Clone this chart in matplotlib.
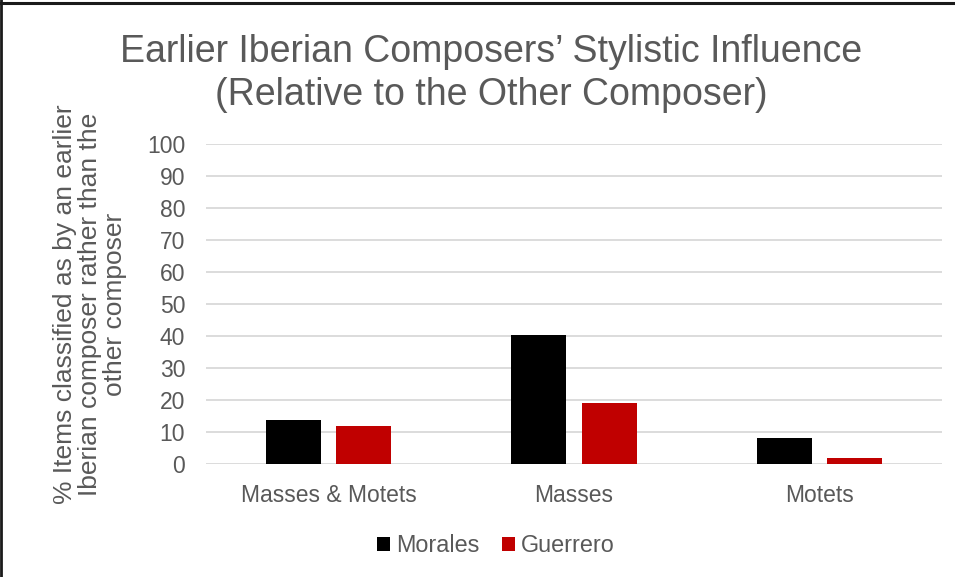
import matplotlib
matplotlib.use("Agg")
import matplotlib.pyplot as plt
from matplotlib.lines import Line2D
import numpy as np

plt.rcParams['font.family'] = ['Liberation Sans', 'DejaVu Sans']

categories = ["Masses & Motets", "Masses", "Motets"]
series_names = ["Morales", "Guerrero"]
morales = [13.8, 40.2, 8.0]
guerrero = [11.9, 19.1, 1.8]
colors = ["#000000", "#c00000"]
yticks = list(range(0, 101, 10))
title_lines = ["Earlier Iberian Composers\u2019 Stylistic Influence",
               "(Relative to the Other Composer)"]
ylabel = ("% Items classified as by an earlier\n"
          "Iberian composer rather than the\n"
          "other composer")

text_grey = "#595959"
W, H = 955, 577

fig = plt.figure(figsize=(W / 100, H / 100), dpi=100)
ax = fig.add_axes([206 / W, 1 - 464 / H, (942 - 206) / W, (464 - 144) / H])

x = np.arange(len(categories))
w = 0.224
off = 0.143
ax.bar(x - off, morales, w, color=colors[0], label=series_names[0], zorder=3)
ax.bar(x + off, guerrero, w, color=colors[1], label=series_names[1], zorder=3)

ax.set_xlim(-0.5, 2.5)
ax.set_ylim(0, 100)
ax.set_yticks(yticks)
ax.set_xticks(x)
ax.set_xticklabels(categories)
ax.tick_params(axis='both', length=0, labelsize=16.5, colors=text_grey)
ax.tick_params(axis='y', pad=15)
ax.tick_params(axis='x', pad=14.5)
ax.grid(axis='y', color="#d9d9d9", linewidth=1.3, zorder=0)
for s in ax.spines.values():
    s.set_visible(False)

# two-line title, each line placed on its own baseline
for line, base in zip(title_lines, [62, 105]):
    fig.text(491 / W, 1 - base / H, line, ha='center', va='baseline',
             fontsize=27, color=text_grey)

fig.text(90 / W, 1 - 304 / H, ylabel, ha='center', va='center', rotation=90,
         multialignment='center', fontsize=19, color=text_grey, linespacing=1.04)

leg = fig.legend(loc='center', bbox_to_anchor=(496 / W, 1 - 546 / H), ncol=2,
                 frameon=False, fontsize=16.8, handlelength=0.54, handleheight=0.54,
                 handletextpad=0.25, columnspacing=1.0, borderpad=0)
for t in leg.get_texts():
    t.set_color(text_grey)

# chart frame: top and left edges
fig.add_artist(Line2D([0, 1], [1 - 2.5 / H, 1 - 2.5 / H], transform=fig.transFigure,
                      color="#1a1a1a", linewidth=2.2))
fig.add_artist(Line2D([1.2 / W, 1.2 / W], [0, 1], transform=fig.transFigure,
                      color="#1a1a1a", linewidth=2.0))

fig.savefig("out.png", dpi=100)
